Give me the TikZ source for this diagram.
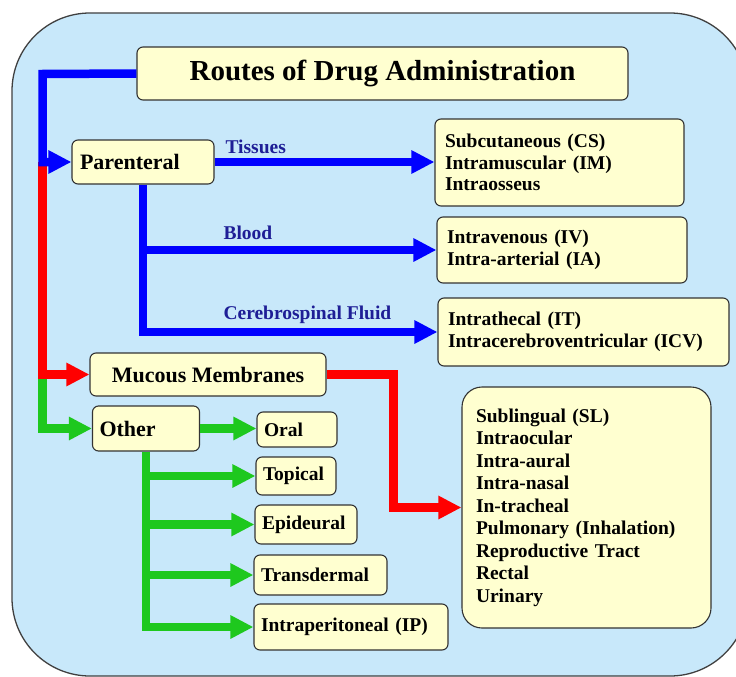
\documentclass[tikz,border=0pt]{standalone}
\usepackage{fontspec}
\setmainfont{Liberation Serif}
\usetikzlibrary{arrows.meta}

\definecolor{bgblue}{RGB}{200,232,250}
\definecolor{boxyellow}{RGB}{255,255,208}
\definecolor{labelblue}{RGB}{30,30,150}
\definecolor{routegreen}{RGB}{30,200,30}

\begin{document}
\begin{tikzpicture}[x=1pt,y=-1pt,
		box/.style={draw=black!80, line width=1.1pt, fill=boxyellow, rounded corners=6pt,
			font=\fontsize{19.5}{21.5}\selectfont\bfseries, align=left, inner xsep=8pt, inner ysep=0pt},
		route/.style={line width=8.5pt, -{Triangle[length=23pt,width=22pt]}},
		blueroute/.style={route, blue},
		redroute/.style={route, red},
		greenroute/.style={route, routegreen},
		lbl/.style={anchor=west, text=labelblue, font=\fontsize{19.5}{21}\selectfont\bfseries}]
		\useasboundingbox (0,0) rectangle (736,677);
		\draw[draw=black!75, line width=1.3pt, fill=bgblue, rounded corners=78pt] (12,13) rectangle (748,676);

		% boxes
		\node[box, align=center, minimum width=491pt, minimum height=53pt, font=\fontsize{29}{32}\selectfont\bfseries] (title) at (382.5,73.5) {Routes of Drug Administration};
		\node[box, text width=126pt, minimum height=44pt, font=\fontsize{22}{24}\selectfont\bfseries] (parenteral) at (143,162) {Parenteral};
		\node[box, align=center, minimum width=236pt, minimum height=43pt, font=\fontsize{22}{24}\selectfont\bfseries] (mucous) at (208,374.5) {Mucous Membranes};
		\node[box, text width=93pt, minimum height=45pt, inner xsep=7pt, font=\fontsize{22}{24}\selectfont\bfseries] (other) at (146,428.5) {Other};

		\node[box, text width=229pt, minimum height=87pt, inner xsep=10pt] (tissues) at (559.5,162.5) {Subcutaneous (CS)\\Intramuscular (IM)\\Intraosseus};
		\node[box, text width=230pt, minimum height=66pt, inner xsep=10pt] (blood) at (562,250) {Intravenous (IV)\\Intra-arterial (IA)};
		\node[box, text width=271pt, minimum height=68pt, inner xsep=10pt] (csf) at (583.5,332) {Intrathecal (IT)\\Intracerebroventricular (ICV)};
		\node[box, text width=221pt, minimum height=241pt, inner xsep=14pt, rounded corners=20pt,
			font=\fontsize{19.5}{22.5}\selectfont\bfseries] (mucouslist) at (586.5,507.5)
			{Sublingual (SL)\\Intraocular\\Intra-aural\\Intra-nasal\\In-tracheal\\Pulmonary (Inhalation)\\Reproductive Tract\\Rectal\\Urinary\\[6pt]};

		\node[box, text width=66pt, minimum height=35pt, inner xsep=7pt] (oral) at (297,429.5) {Oral};
		\node[box, text width=66pt, minimum height=38pt, inner xsep=7pt] (topical) at (296,476) {Topical};
		\node[box, text width=88pt, minimum height=39pt, inner xsep=7pt] (epideural) at (306,524.5) {Epideural};
		\node[box, text width=119pt, minimum height=40pt, inner xsep=7pt] (transdermal) at (320.5,575) {Transdermal};
		\node[box, text width=180pt, minimum height=46pt, inner xsep=7pt] (ip) at (351,627) {Intraperitoneal (IP)};

		% routes
		\coordinate (trunk) at (42.5,74);
		\draw[greenroute] (trunk |- mucous.west) |- (other.west);
		\draw[redroute] (trunk |- parenteral.west) |- (mucous.west);
		\draw[blueroute] (title.west) -- (trunk) |- (parenteral.west);

		\draw[blueroute] (parenteral.east) -- (parenteral.east -| tissues.west);
		\draw[blueroute] (parenteral.south) |- (csf.west);
		\draw[blueroute] (parenteral.south |- blood.west) -- (blood.west);

		\draw[redroute] (mucous.east) -- ++(67,0) |- (mucouslist.west);

		\draw[greenroute] (other.east) -- (other.east -| oral.west);
		\draw[greenroute] (other.south) |- (ip.west);
		\foreach \n in {topical,epideural,transdermal}
			\draw[greenroute] (other.south |- \n.west) -- (\n.west);

		% labels
		\node[lbl] (tissueslbl) at (222,147) {Tissues};
		\node[lbl] (bloodlbl) at (220,233) {Blood};
		\node[lbl] (csflbl) at (220,315) {Cerebrospinal Fluid};
	\end{tikzpicture}
\end{document}
